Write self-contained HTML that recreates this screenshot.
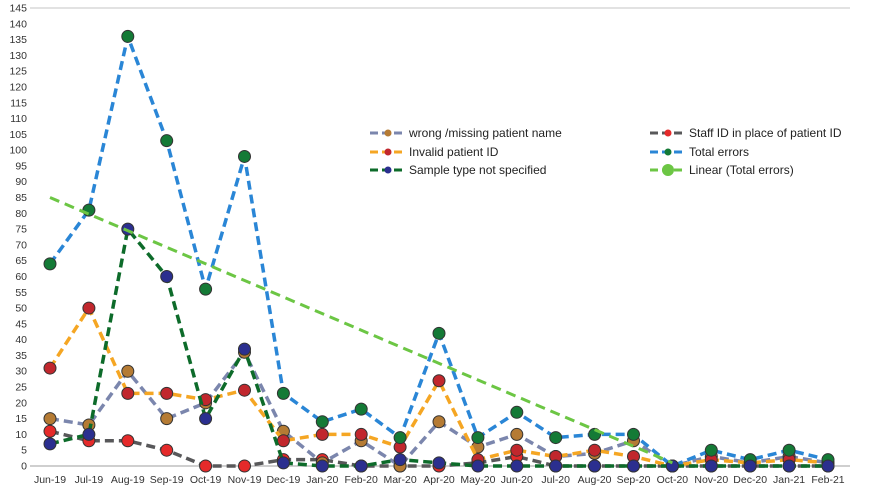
<!DOCTYPE html>
<html><head><meta charset="utf-8"><style>
body{margin:0;background:#fff;}
svg{display:block;font-family:"Liberation Sans",sans-serif;}
</style></head><body>
<svg id="chart" width="875" height="488"></svg>
<script>
const categories=["Jun-19","Jul-19","Aug-19","Sep-19","Oct-19","Nov-19","Dec-19","Jan-20","Feb-20","Mar-20","Apr-20","May-20","Jun-20","Jul-20","Aug-20","Sep-20","Oct-20","Nov-20","Dec-20","Jan-21","Feb-21"];
const wrongName=[15,13,30,15,20,36,11,1,8,0,14,6,10,3,4,8,0,3,1,3,1];
const staffId=[11,8,8,5,0,0,2,2,0,0,0,1,3,0,0,0,0,0,0,0,0];
const invalidId=[31,50,23,23,21,24,8,10,10,6,27,2,5,3,5,3,0,2,1,2,1];
const totalErrors=[64,81,136,103,56,98,23,14,18,9,42,9,17,9,10,10,0,5,2,5,2];
const sampleType=[7,10,75,60,15,37,1,0,0,2,1,0,0,0,0,0,0,0,0,0,0];
const trendStart=85, trendEnd=1, trendEndIndex=16;
const yTicks=[];for(let v=0;v<=145;v+=5)yTicks.push(v);

const NS="http://www.w3.org/2000/svg";
const svg=document.getElementById('chart');
const x0=50,dx=(828-50)/(categories.length-1);
const X=i=>x0+i*dx;
const Y=v=>466-v*(458/145);
function mk(t,a,p){const e=document.createElementNS(NS,t);for(const k in a)e.setAttribute(k,a[k]);(p||svg).appendChild(e);return e;}

const grid=mk('line',{x1:30,x2:850,y1:Y(145),y2:Y(145),stroke:'#d9d9d9','stroke-width':1.5});


yTicks.forEach(v=>{const t=mk('text',{x:27,y:Y(v)+3.5,'text-anchor':'end','font-size':10.5,fill:'#333'});t.textContent=v;

});
const ax=mk('line',{x1:30,x2:850,y1:466,y2:466,stroke:'#bfbfbf','stroke-width':1.5});


categories.forEach((c,i)=>{const t=mk('text',{x:X(i),y:483,'text-anchor':'middle','font-size':10.5,fill:'#333'});t.textContent=c;

});

const series=[
 {d:staffId,line:'#58585a',m:'#e52a2a',n:'staff-id-series'},
 {d:wrongName,line:'#7b86ad',m:'#b57b34',n:'wrong-name-series'},
 {d:invalidId,line:'#f5a623',m:'#c1272d',n:'invalid-id-series'},
 {d:totalErrors,line:'#2a86d6',m:'#147a36',n:'total-errors-series'},
 {d:sampleType,line:'#0d6b2a',m:'#2b2f8f',n:'sample-type-series'}
];
series.forEach(s=>{
 const g=mk('g',{});
 
 
 const pts=s.d.map((v,i)=>X(i)+','+Y(v)).join(' ');
 const pl=mk('polyline',{points:pts,fill:'none',stroke:s.line,'stroke-width':3.5,'stroke-dasharray':'9,5'},g);
 
 
 s.d.forEach((v,i)=>{const c=mk('circle',{cx:X(i),cy:Y(v),r:6,fill:s.m,stroke:'#333','stroke-width':1},g);
 
 });
});
const tr=mk('line',{x1:X(0),y1:Y(trendStart),x2:X(trendEndIndex),y2:Y(trendEnd),stroke:'#6cc644','stroke-width':3,'stroke-dasharray':'10,6'});



const legend=[
 {x:370,y:133,line:'#7b86ad',m:'#b57b34',t:'wrong /missing patient name'},
 {x:370,y:152,line:'#f5a623',m:'#c1272d',t:'Invalid patient ID'},
 {x:370,y:170,line:'#0d6b2a',m:'#2b2f8f',t:'Sample type not specified'},
 {x:650,y:133,line:'#58585a',m:'#e52a2a',t:'Staff ID in place of patient ID'},
 {x:650,y:152,line:'#2a86d6',m:'#147a36',t:'Total errors'},
 {x:650,y:170,line:'#6cc644',m:'#6cc644',t:'Linear (Total errors)',big:true}
];
legend.forEach(l=>{
 const g=mk('g',{});
 
 
 mk('line',{x1:l.x,x2:l.x+36,y1:l.y,y2:l.y,stroke:l.line,'stroke-width':3,'stroke-dasharray':'8,4'},g);
 mk('circle',{cx:l.x+18,cy:l.y,r:l.big?6:3.5,fill:l.m},g);
 const t=mk('text',{x:l.x+39,y:l.y+4,'font-size':12,fill:'#222'},g);t.textContent=l.t;
});
</script>
</body></html>
